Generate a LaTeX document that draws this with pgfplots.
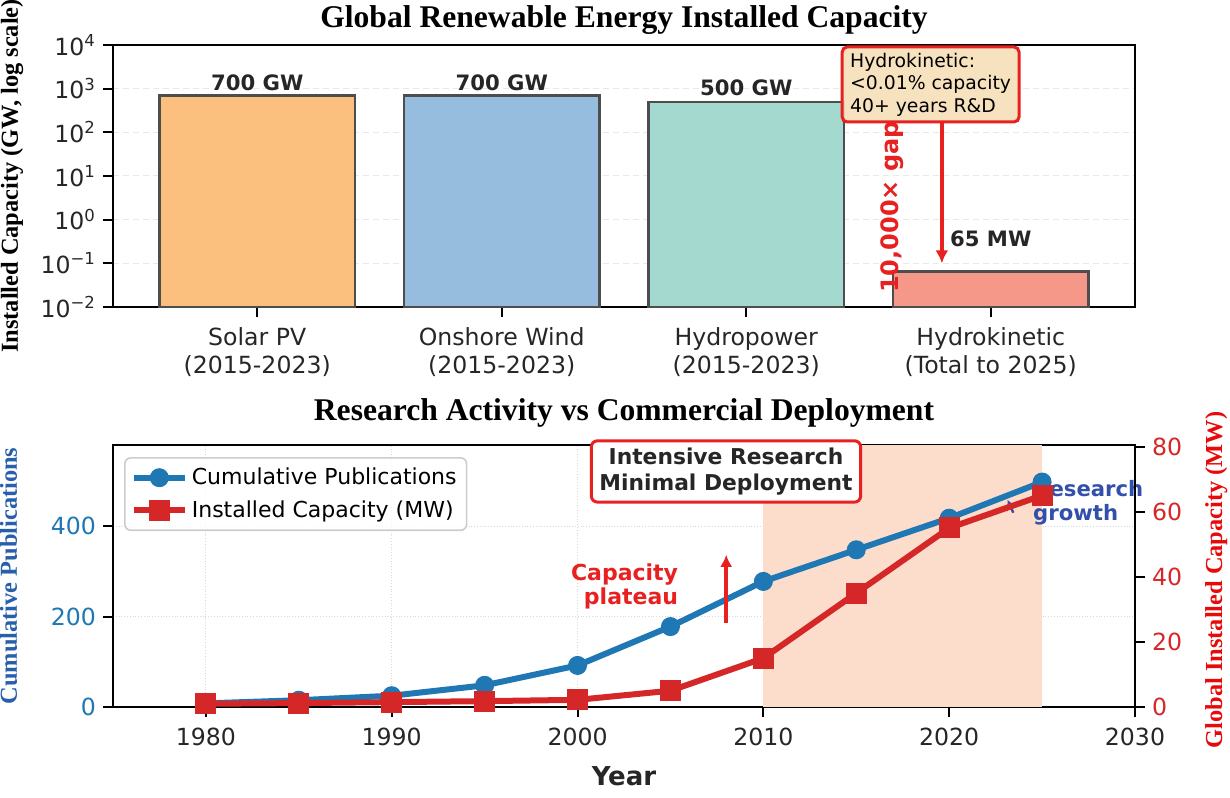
\documentclass[border=0pt]{standalone}
\usepackage{fontspec}
\setmainfont{DejaVu Sans}
\newfontfamily\tnr{Liberation Serif}
\usepackage{pgfplots}
\pgfplotsset{compat=1.18}
\usetikzlibrary{arrows.meta}

\definecolor{csolar}{RGB}{252,192,126}
\definecolor{cwind}{RGB}{150,189,221}
\definecolor{chydro}{RGB}{163,217,207}
\definecolor{chk}{RGB}{245,151,137}
\definecolor{cedge}{RGB}{77,77,77}
\definecolor{pubblue}{RGB}{31,119,180}
\definecolor{capred}{RGB}{214,39,40}
\definecolor{shade}{RGB}{252,221,204}
\definecolor{annred}{RGB}{232,32,32}
\definecolor{wheat}{RGB}{246,223,184}
\definecolor{resblue}{RGB}{50,80,170}
\definecolor{lblblue}{RGB}{40,95,170}
\definecolor{lblred}{RGB}{232,10,10}

\newcommand\tickfont{\fontsize{11.8}{14}\selectfont}
\newcommand\titlefont{\fontsize{15.8}{18}\selectfont\tnr\bfseries}
\newcommand\labfont{\fontsize{12.2}{14}\selectfont\tnr\bfseries}
\newcommand\legfont{\fontsize{11}{13}\selectfont}

\begin{document}
\begin{tikzpicture}
\useasboundingbox (0,0) rectangle (615pt,398.5pt);

% ---------------- top chart ----------------
\begin{axis}[
  at={(56.5pt,245pt)}, anchor=south west,
  scale only axis, width=511pt, height=131pt,
  ymode=log, log origin=infty,
  ymin=0.01, ymax=10000, xmin=-0.59, xmax=3.59,
  xtick={0,1,2,3},
  xticklabels={{Solar PV\\(2015-2023)},{Onshore Wind\\(2015-2023)},{Hydropower\\(2015-2023)},{Hydrokinetic\\(Total to 2025)}},
  ytick={0.01,0.1,1,10,100,1000,10000},
  yticklabels={10\textsuperscript{−2},10\textsuperscript{−1},10\textsuperscript{0},10\textsuperscript{1},10\textsuperscript{2},10\textsuperscript{3},10\textsuperscript{4}},
  yminorticks=false,
  tick align=outside, tick pos=left,
  major tick length=5pt,
  tick style={black, line width=1pt},
  axis line style={line width=1.3pt, black},
  ymajorgrids, grid style={densely dashed, gray!18, line width=0.5pt},
  ticklabel style={font=\tickfont, text=black!85},
  xticklabel style={align=center, yshift=-2pt},
  clip=false,
]
\addplot[ybar, bar width=0.8, bar shift=0pt, fill=csolar, draw=cedge, line width=1.2pt] coordinates {(0,700)};
\addplot[ybar, bar width=0.8, bar shift=0pt, fill=cwind, draw=cedge, line width=1.2pt] coordinates {(1,700)};
\addplot[ybar, bar width=0.8, bar shift=0pt, fill=chydro, draw=cedge, line width=1.2pt] coordinates {(2,500)};
\addplot[ybar, bar width=0.8, bar shift=0pt, fill=chk, draw=cedge, line width=1.2pt] coordinates {(3,0.065)};

\node[anchor=base, font=\fontsize{10.6}{12}\selectfont\bfseries, text=black!85] at (axis cs:0,930) {700 GW};
\node[anchor=base, font=\fontsize{10.6}{12}\selectfont\bfseries, text=black!85] at (axis cs:1,930) {700 GW};
\node[anchor=base, font=\fontsize{10.6}{12}\selectfont\bfseries, text=black!85] at (axis cs:2,680) {500 GW};
\node[anchor=base, font=\fontsize{10.6}{12}\selectfont\bfseries, text=black!85] at (axis cs:3,0.237) {65 MW};

\draw[annred, line width=2pt, -{Latex[length=6.5pt,width=6.5pt]}] (axis cs:2.8,173) -- (axis cs:2.8,0.1);
\node[draw=annred, line width=1.5pt, rounded corners=2.5pt, fill=wheat, fill opacity=0.9, text opacity=1,
      align=left, font=\fontsize{9.4}{11.2}\selectfont, inner xsep=4pt, inner ysep=3pt]
      at (axis cs:2.754,1246) {Hydrokinetic:\\<0.01\% capacity\\40+ years R\&D};
\node[rotate=90, font=\fontsize{12}{14}\selectfont\bfseries, text=annred, inner sep=0pt] at (axis cs:2.598,1.95) {10,000× gap};

\node[anchor=base, font=\titlefont] at (rel axis cs:0.5,1) [yshift=8.5pt] {Global Renewable Energy Installed Capacity};
\node[xshift=-47.5pt, rotate=90, anchor=base, font=\labfont] at (rel axis cs:0,0.5) {Installed Capacity (GW, log scale)};
\end{axis}

% ---------------- bottom chart, left axis ----------------
\begin{axis}[
  at={(56.5pt,45pt)}, anchor=south west,
  scale only axis, width=511pt, height=131pt,
  xmin=1975, xmax=2030, ymin=0, ymax=580,
  xtick={1980,1990,2000,2010,2020,2030},
  xticklabels={1980,1990,2000,2010,2020,2030},
  ytick={0,200,400}, yticklabels={0,200,400},
  tick align=outside, tick pos=left,
  major tick length=5pt,
  tick style={black, line width=1pt},
  axis line style={line width=1.3pt, black},
  xmajorgrids, ymajorgrids, grid style={densely dotted, gray!30, line width=0.5pt},
  xticklabel style={font=\tickfont, text=black!85, yshift=-2pt},
  yticklabel style={font=\tickfont, text=pubblue},
  clip=false,
  legend style={at={(0.0108,0.954)}, anchor=north west, draw=black!20, line width=0.8pt,
     rounded corners=3pt, fill=white, fill opacity=0.8, text opacity=1, font=\legfont,
     row sep=2.5pt, inner xsep=3pt, inner ysep=3pt},
  legend cell align=left,
  legend image code/.code={\draw[mark repeat=2, mark phase=2, fill opacity=1, draw opacity=1, #1] plot coordinates {(0pt,0pt) (12.75pt,0pt) (25.5pt,0pt)};},
]
\addplot[draw=none, fill=shade, forget plot] coordinates {(2010,580) (2025,580)} \closedcycle;

\node[anchor=west, align=left, inner sep=0pt, font=\fontsize{10.6}{11.6}\selectfont\bfseries, text=resblue] at (axis cs:2024.5,452) {Research\\growth};
\draw[resblue, line width=1.2pt, -{Stealth[length=5pt,width=5pt]}] (axis cs:2023.45,430) -- (axis cs:2023.15,458);

\addplot[pubblue, line width=3pt, mark=*, mark size=4.5pt, mark options={line width=0.5pt}] coordinates {
(1980,8) (1985,15) (1990,25) (1995,48) (2000,92) (2005,178) (2010,278) (2015,348) (2020,418) (2025,498)};
\addlegendentry{Cumulative Publications}
\addlegendimage{capred, line width=3pt, mark=square*, mark size=5pt, mark options={line width=0.5pt}}
\addlegendentry{Installed Capacity (MW)}

\draw[annred, line width=1.8pt, -{Latex[length=6pt,width=6pt]}] (axis cs:2008,186) -- (axis cs:2008,337);
\node[anchor=east, align=right, inner sep=0pt, font=\fontsize{11}{12}\selectfont\bfseries, text=annred] at (axis cs:2005.43,266) {Capacity\\plateau};

\node[draw=annred, line width=1.5pt, rounded corners=3pt, fill=white, align=center, inner xsep=4pt, inner ysep=3.5pt,
      font=\fontsize{10.9}{13}\selectfont\bfseries, text=black!85] at (rel axis cs:0.5998,0.899) {Intensive Research\\Minimal Deployment};

\node[anchor=base, font=\titlefont] at (rel axis cs:0.5,1) [yshift=12pt] {Research Activity vs Commercial Deployment};
\node[xshift=-48pt, rotate=90, anchor=base, font=\labfont, text=lblblue] at (rel axis cs:0,0.5) {Cumulative Publications};
\node[anchor=base, font=\fontsize{13}{15}\selectfont\bfseries, text=black!85] at (rel axis cs:0.5,0) [yshift=-39pt] {Year};
\end{axis}

% ---------------- bottom chart, right axis ----------------
\begin{axis}[
  at={(56.5pt,45pt)}, anchor=south west,
  scale only axis, width=511pt, height=131pt,
  xmin=1975, xmax=2030, ymin=0, ymax=80.5,
  axis x line=none, axis y line*=right,
  ytick={0,20,40,60,80}, yticklabels={0,20,40,60,80},
  tick align=outside,
  major tick length=5pt,
  tick style={black, line width=1pt},
  axis line style={line width=1.3pt, black, -},
  yticklabel style={font=\tickfont, text=capred},
  clip=false,
]
\addplot[capred, line width=3pt, mark=square*, mark size=5pt, mark options={line width=0.5pt}] coordinates {
(1980,1.0) (1985,1.2) (1990,1.5) (1995,1.8) (2000,2.2) (2005,5) (2010,15) (2015,35) (2020,55) (2025,65)};
\node[xshift=43.5pt, yshift=-2pt, rotate=90, anchor=base, font=\labfont, text=lblred] at (rel axis cs:1,0.5) {Global Installed Capacity (MW)};
\end{axis}
\end{tikzpicture}
\end{document}
